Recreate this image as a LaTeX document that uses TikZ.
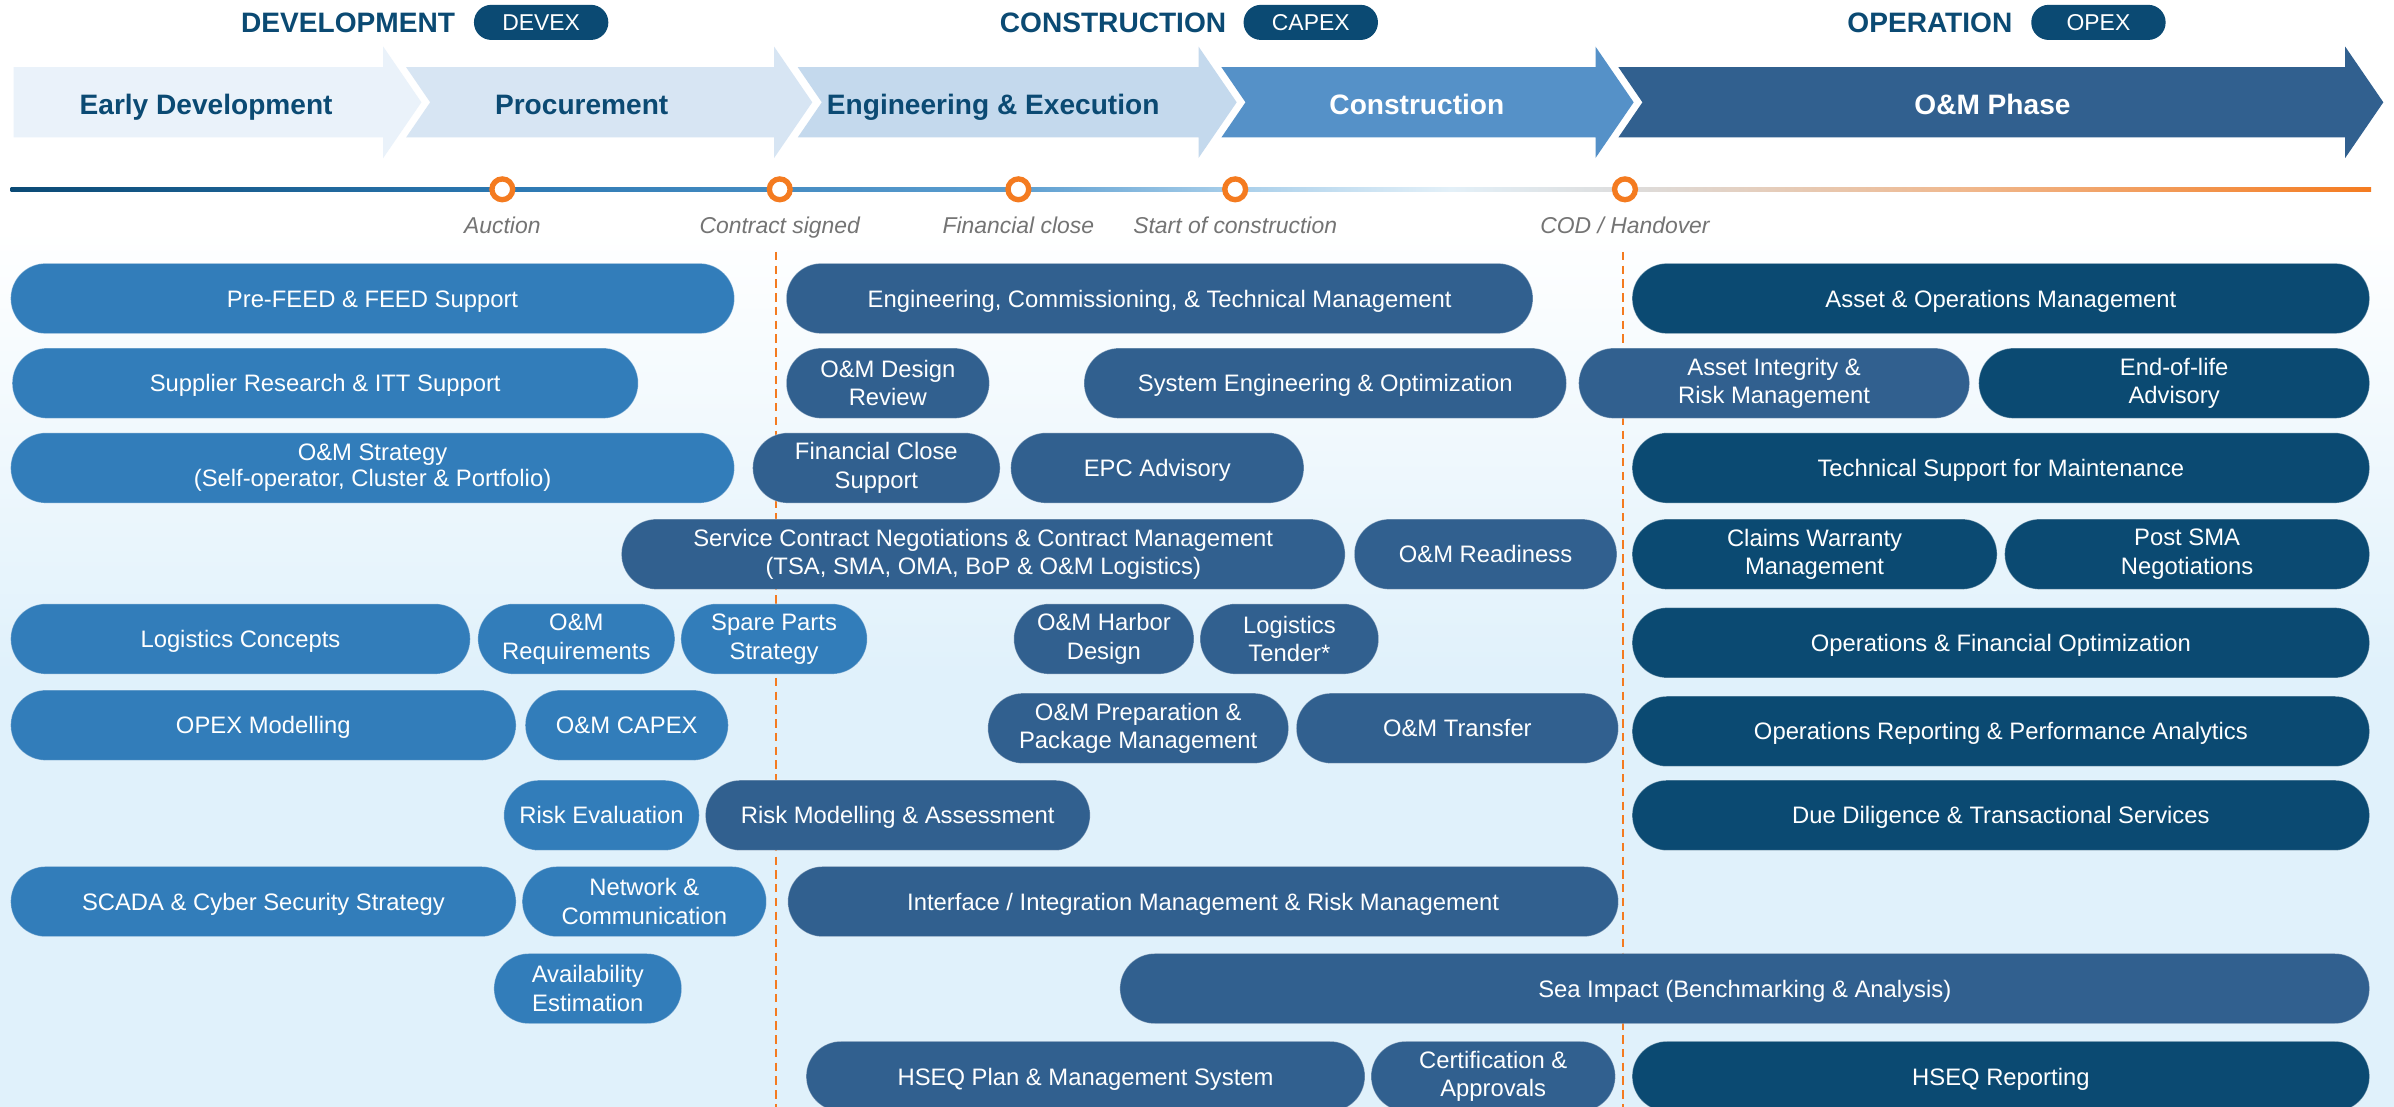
\documentclass[tikz,border=0pt]{standalone}
\usepackage{fontspec}
\setmainfont{Liberation Sans}
\usetikzlibrary{positioning}

\definecolor{hdrblue}{HTML}{0B4A73}
\definecolor{colDev}{HTML}{327DBA}
\definecolor{colCap}{HTML}{31608F}
\definecolor{colOps}{HTML}{0B4A72}
\definecolor{chevA}{HTML}{EAF2FA}
\definecolor{chevB}{HTML}{D7E5F3}
\definecolor{chevC}{HTML}{C4D9ED}
\definecolor{chevD}{HTML}{5591C8}
\definecolor{chevE}{HTML}{31608F}
\definecolor{bgblue}{HTML}{E0F1FB}
\definecolor{msorange}{HTML}{F47B20}
\definecolor{msgrey}{HTML}{747474}
\definecolor{tlA}{HTML}{0B4A75}
\definecolor{tlB}{HTML}{2C78B2}
\definecolor{tlC}{HTML}{5C9ED0}
\definecolor{tlD}{HTML}{A9CFEA}
\definecolor{tlE}{HTML}{E3F0F8}
\definecolor{tlF}{HTML}{DDDDDD}
\definecolor{tlG}{HTML}{F0B78C}
\definecolor{tlH}{HTML}{F47B20}

\pgfdeclarehorizontalshading{tline}{100bp}{color(0bp)=(tlA); color(25bp)=(tlA);
  color(35.5bp)=(tlB); color(46.3bp)=(tlC); color(51bp)=(tlD); color(55.5bp)=(tlE);
  color(59.2bp)=(tlF); color(66.5bp)=(tlG); color(75bp)=(tlH); color(100bp)=(tlH)}

\newcommand{\pillfont}{\fontsize{15.6}{18.6}\selectfont}
\newcommand{\chevfont}{\fontsize{18.4}{22}\selectfont\bfseries}
\newcommand{\tagfont}{\fontsize{15}{18}\selectfont}
\newcommand{\msfont}{\fontsize{15}{18}\selectfont\itshape}

\tikzset{
  chevtxt/.style={font=\chevfont, anchor=base, inner sep=0pt},
  phase/.style={font=\chevfont, text=hdrblue, anchor=base, inner sep=0pt},
  tagpill/.style={fill=hdrblue, text=white, font=\tagfont, rounded corners=11.4pt,
    minimum height=23pt, minimum width=88pt, inner sep=0pt, text height=10.7pt, text depth=0pt},
  ms/.style={circle, draw=msorange, line width=3.5pt, fill=white, minimum size=13.6pt, inner sep=0pt},
  mslbl/.style={font=\msfont, text=msgrey, inner sep=0pt, text height=11pt, text depth=0pt},
  cutline/.style={draw=msorange, line width=1.4pt, dash pattern=on 5.5pt off 3.5pt},
  pill/.style={rounded corners=22.9pt, minimum height=46pt, inner sep=0pt, text=white,
    font=\pillfont, draw=white, draw opacity=0.35, line width=0.6pt},
  one/.style={text height=11.3pt, text depth=0pt},
  two/.style={align=center, execute at begin node={\rule{0pt}{16.5pt}}},
  devpill/.style={pill, fill=colDev},
  cappill/.style={pill, fill=colCap},
  opspill/.style={pill, fill=colOps}
}

\begin{document}
\begin{tikzpicture}[x=1pt, y=-1pt]
  \useasboundingbox (0,0) rectangle (1568,725);

  % background
  \fill[white] (0,0) rectangle (1568,725);
  \shade[top color=white, bottom color=bgblue] (0,150) rectangle (1568,440.5);
  \fill[bgblue] (0,440) rectangle (1568,725);

  % phase headers
  \node[phase] (devtitle) at (228,21) {DEVELOPMENT};
  \node[tagpill, right=12pt of devtitle] (devex) {DEVEX};
  \node[phase] (contitle) at (729,21) {CONSTRUCTION};
  \node[tagpill, right=11pt of contitle] (capex) {CAPEX};
  \node[phase] (optitle) at (1264,21) {OPERATION};
  \node[tagpill, right=12pt of optitle] (opex) {OPEX};

  % chevrons
  \fill[chevA] (9,44) -- (251,44) -- (251,30.5) -- (276,67) -- (251,103.5) -- (251,90) -- (9,90) -- cycle;
  \fill[chevB] (266,44) -- (507,44) -- (507,30.5) -- (532,67) -- (507,103.5) -- (507,90) -- (266,90) -- (281.75,67) -- cycle;
  \fill[chevC] (522.5,44) -- (785,44) -- (785,30.5) -- (810,67) -- (785,103.5) -- (785,90) -- (522.5,90) -- (538.25,67) -- cycle;
  \fill[chevD] (800,44) -- (1045,44) -- (1045,30.5) -- (1070,67) -- (1045,103.5) -- (1045,90) -- (800,90) -- (815.75,67) -- cycle;
  \fill[chevE] (1060,44) -- (1536,44) -- (1536,30.5) -- (1561,67) -- (1536,103.5) -- (1536,90) -- (1060,90) -- (1075.75,67) -- cycle;

  \node[chevtxt, text=hdrblue] (earlydev) at (135,75.3) {Early Development};
  \node[chevtxt, text=hdrblue] (procure) at (381,75.3) {Procurement};
  \node[chevtxt, text=hdrblue] (engexec) at (650.5,75.3) {Engineering \& Execution};
  \node[chevtxt, text=white] (constr) at (928,75.3) {Construction};
  \node[chevtxt, text=white] (omphase) at (1305,75.3) {O\&M Phase};

  % timeline and milestones
  \shade[shading=tline] (7,122.7) rectangle (1553,125.3);

  \node[ms] (auction) at (329,124) {};
  \node[mslbl, below=9pt of auction] (auctionlbl) {Auction};
  \node[ms] (signed) at (510.7,124) {};
  \node[mslbl, below=9pt of signed] (signedlbl) {Contract signed};
  \node[ms] (finclosems) at (667,124) {};
  \node[mslbl, below=9pt of finclosems] (finclosemslbl) {Financial close};
  \node[ms] (startcon) at (809,124) {};
  \node[mslbl, below=9pt of startcon] (startconlbl) {Start of construction};
  \node[ms] (cod) at (1064.3,124) {};
  \node[mslbl, below=9pt of cod] (codlbl) {COD / Handover};

  % phase borders
  \coordinate (cutA) at (508.5,165);
  \coordinate (cutAend) at (508.5,725);
  \coordinate (cutB) at (1063,165);
  \coordinate (cutBend) at (1063,725);
  \draw[cutline] (cutA) -- (cutAend);
  \draw[cutline] (cutB) -- (cutBend);

  % development pills
  \node[devpill, one, minimum width=474] (prefeed) at (244,195.5) {Pre-FEED \& FEED Support};
  \node[devpill, one, minimum width=410] (supplier) at (213,251) {Supplier Research \& ITT Support};
  \node[devpill, two, minimum width=474, font=\fontsize{15.6}{17}\selectfont] (omstrategy) at (244,306.5) {O\&M Strategy\\(Self-operator, Cluster \& Portfolio)};
  \node[devpill, one, minimum width=301] (logistics) at (157.5,418.5) {Logistics Concepts};
  \node[devpill, two, minimum width=129] (omreq) at (377.5,418.5) {O\&M\\Requirements};
  \node[devpill, two, minimum width=122] (spares) at (507,418.5) {Spare Parts\\Strategy};
  \node[devpill, one, minimum width=331] (opexmod) at (172.5,475) {OPEX Modelling};
  \node[devpill, one, minimum width=133] (omcapex) at (410.5,475) {O\&M CAPEX};
  \node[devpill, one, minimum width=128] (riskeval) at (394,534) {Risk Evaluation};
  \node[devpill, one, minimum width=331] (scada) at (172.5,590.5) {SCADA \& Cyber Security Strategy};
  \node[devpill, two, minimum width=160] (network) at (422,590.5) {Network \&\\Communication};
  \node[devpill, two, minimum width=123] (availability) at (385,647.5) {Availability\\Estimation};

  % construction pills
  \node[cappill, one, minimum width=489] (engcomm) at (759.5,195.5) {Engineering, Commissioning, \& Technical Management};
  \node[cappill, two, minimum width=133] (omdesign) at (581.5,251) {O\&M Design\\Review};
  \node[cappill, one, minimum width=316] (syseng) at (868,251) {System Engineering \& Optimization};
  \node[cappill, two, minimum width=256] (integrity) at (1162,251) {Asset Integrity \&\\Risk Management};
  \node[cappill, two, minimum width=162] (finclose) at (574,306.5) {Financial Close\\Support};
  \node[cappill, one, minimum width=192] (epc) at (758,306.5) {EPC Advisory};
  \node[cappill, two, minimum width=474] (service) at (644,363) {Service Contract Negotiations \& Contract Management\\(TSA, SMA, OMA, BoP \& O\&M Logistics)};
  \node[cappill, one, minimum width=172] (readiness) at (973,363) {O\&M Readiness};
  \node[cappill, two, minimum width=118] (harbor) at (723,418.5) {O\&M Harbor\\Design};
  \node[cappill, two, minimum width=117] (tender) at (844.5,418.5) {Logistics\\Tender*};
  \node[cappill, two, minimum width=197] (omprep) at (745.5,477) {O\&M Preparation \&\\Package Management};
  \node[cappill, one, minimum width=211] (transfer) at (954.5,477) {O\&M Transfer};
  \node[cappill, one, minimum width=252] (riskmod) at (588,534) {Risk Modelling \& Assessment};
  \node[cappill, one, minimum width=544] (interface) at (788,590.5) {Interface / Integration Management \& Risk Management};
  \node[cappill, one, minimum width=818.5] (seaimpact) at (1142.75,647.5) {Sea Impact (Benchmarking \& Analysis)};
  \node[cappill, one, minimum width=366] (hseqplan) at (711,705) {HSEQ Plan \& Management System};
  \node[cappill, two, minimum width=160] (certif) at (978,705) {Certification \&\\Approvals};

  % operation pills
  \node[opspill, one, minimum width=483] (assetops) at (1310.5,195.5) {Asset \& Operations Management};
  \node[opspill, two, minimum width=256] (endoflife) at (1424,251) {End-of-life\\Advisory};
  \node[opspill, one, minimum width=483] (techsupport) at (1310.5,306.5) {Technical Support for Maintenance};
  \node[opspill, two, minimum width=239] (claims) at (1188.5,363) {Claims Warranty\\Management};
  \node[opspill, two, minimum width=239] (postsma) at (1432.5,363) {Post SMA\\Negotiations};
  \node[opspill, one, minimum width=483] (opsfin) at (1310.5,421) {Operations \& Financial Optimization};
  \node[opspill, one, minimum width=483] (opsreport) at (1310.5,479) {Operations Reporting \& Performance Analytics};
  \node[opspill, one, minimum width=483] (duediligence) at (1310.5,534) {Due Diligence \& Transactional Services};
  \node[opspill, one, minimum width=483] (hseqreport) at (1310.5,705) {HSEQ Reporting};
\end{tikzpicture}
\end{document}
